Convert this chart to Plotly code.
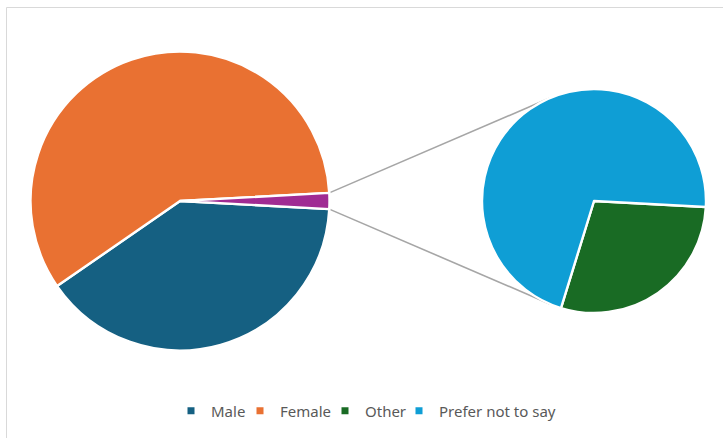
import math
import plotly.graph_objects as go

# ---- data ----
categories = ["Male", "Female", "Other", "Prefer not to say"]
values = [39.5, 58.77, 0.5, 1.23]
colors = ["#156082", "#E97132", "#196B24", "#0F9ED5"]
combined_color = "#A02B93"
combined_label = "Other + Prefer not to say"

main_labels = [categories[0], categories[1], combined_label]
main_values = [values[0], values[1], values[2] + values[3]]
main_colors = [colors[0], colors[1], combined_color]
second_labels = [categories[2], categories[3]]
second_values = [values[2], values[3]]
second_colors = [colors[2], colors[3]]

# ---- layout geometry (page pixels) ----
W, H = 723, 438
C1, R1 = (180.0, 201.0), 149.5
C2, R2 = (594.0, 201.0), 112.0
LEGEND_TEXT_X = [207, 276, 361, 435]   # where each legend label starts
LEGEND_Y = 411


def domain(c, r):
    return dict(x=[(c[0] - r) / W, (c[0] + r) / W],
                y=[1 - (c[1] + r) / H, 1 - (c[1] - r) / H])


total = sum(main_values)
half_deg = 180.0 * main_values[2] / total

fig = go.Figure()
fig.add_trace(go.Pie(
    labels=main_labels, values=main_values, sort=False, direction="clockwise",
    rotation=90 + half_deg, domain=domain(C1, R1), textinfo="none",
    marker=dict(colors=main_colors, line=dict(color="white", width=2.4)),
    showlegend=False, hoverinfo="label+percent"))

fig.add_trace(go.Pie(
    labels=second_labels, values=second_values, sort=False, direction="clockwise",
    rotation=93.1, domain=domain(C2, R2), textinfo="none",
    marker=dict(colors=second_colors, line=dict(color="white", width=2.4)),
    showlegend=False, hoverinfo="label+percent"))

# legend entries, one small legend per entry so each can be placed like Excel's
legend_ids = ["legend", "legend2", "legend3", "legend4"]
legend_layout = {}
for name, col, lid, tx in zip(categories, colors, legend_ids, LEGEND_TEXT_X):
    fig.add_trace(go.Scatter(x=[None], y=[None], mode="markers", name=name,
                             legend=lid,
                             marker=dict(symbol="square", size=7, color=col)))
    legend_layout[lid] = dict(
        orientation="h", x=(tx + 4 - 40) / W, xanchor="left",
        y=1 - LEGEND_Y / H, yanchor="middle", bgcolor="rgba(0,0,0,0)",
        font=dict(size=15, color="#595959"), itemwidth=30)

# connector lines (tangents from the split slice edges to the secondary pie)
h = math.radians(half_deg)
shapes = []
for sign in (1, -1):
    px = C1[0] + R1 * math.cos(h)
    py = C1[1] - sign * R1 * math.sin(h)
    vx, vy = px - C2[0], py - C2[1]
    d = math.hypot(vx, vy)
    base = math.atan2(vy, vx)
    alpha = math.acos(R2 / d)
    ang = base + alpha if sign == 1 else base - alpha
    tx = C2[0] + R2 * math.cos(ang)
    ty = C2[1] + R2 * math.sin(ang)
    shapes.append(dict(type="line", xref="paper", yref="paper", layer="below",
                       x0=px / W, y0=1 - py / H, x1=tx / W, y1=1 - ty / H,
                       line=dict(color="#A6A6A6", width=1.6)))

# chart frame
shapes.append(dict(type="rect", xref="paper", yref="paper",
                   x0=6.5 / W, y0=-0.05, x1=1.05, y1=1 - 7.5 / H,
                   line=dict(color="#D9D9D9", width=1)))

fig.update_layout(
    width=W, height=H, margin=dict(l=0, r=0, t=0, b=0),
    paper_bgcolor="white", plot_bgcolor="white",
    xaxis=dict(visible=False), yaxis=dict(visible=False),
    shapes=shapes,
    font=dict(family="Noto Sans, Lato, sans-serif", color="#595959", size=15),
    **legend_layout,
)

fig.write_html("out.html",
               config={"displayModeBar": False},
               post_script="document.body.style.margin='0';"
                           "document.body.style.overflow='hidden';")
